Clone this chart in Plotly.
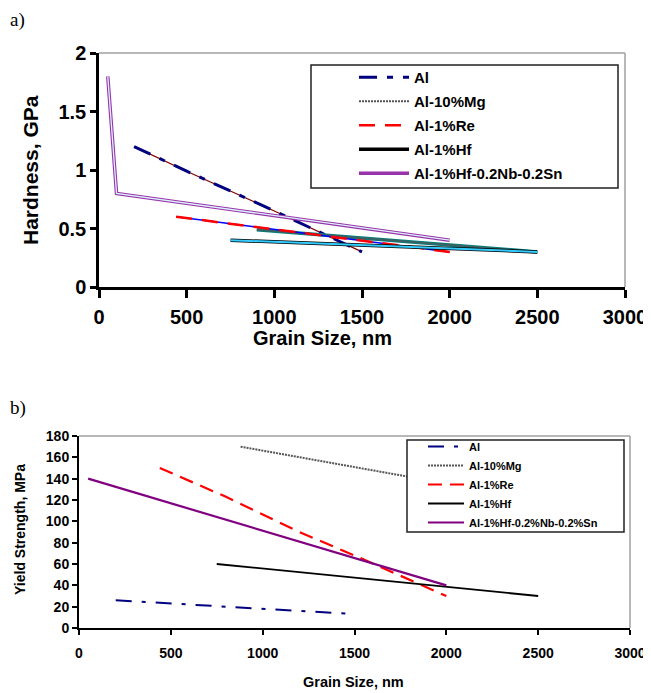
import plotly.graph_objects as go

# the page adds an 8px body margin, so the figure is drawn 8px in from the window edge
OFF = 8
W, H = 651 - OFF, 693 - OFF

# ---- panel a) hardness ----
al_x_a = [200, 500, 1000, 1500]
al_h = [1.2, 0.99, 0.65, 0.3]
mg_x_a = [900, 2500]
mg_h = [0.49, 0.3]
re_x_a = [440, 2000]
re_h = [0.6, 0.3]
hf_x_a = [750, 2500]
hf_h = [0.4, 0.3]
nbsn_x_a = [50, 100, 2000]
nbsn_h = [1.8, 0.8, 0.4]

# ---- panel b) yield strength ----
al_x_b = [200, 1500]
al_ys = [26, 13]
mg_x_b = [880, 2500]
mg_ys = [170, 120]
re_x_b = [440, 800, 1200, 1500, 2000]
re_ys = [150, 123, 90, 68, 30]
hf_x_b = [750, 2500]
hf_ys = [60, 30]
nbsn_x_b = [50, 2000]
nbsn_ys = [140, 40]

names = ["Al", "Al-10%Mg", "Al-1%Re", "Al-1%Hf", "Al-1%Hf-0.2Nb-0.2Sn"]
names_b = ["Al", "Al-10%Mg", "Al-1%Re", "Al-1%Hf", "Al-1%Hf-0.2%Nb-0.2%Sn"]
grain_ticks = [0, 500, 1000, 1500, 2000, 2500, 3000]
FONT = "Liberation Sans, Arial, sans-serif"


def px(x):
    return (x - OFF) / W


def py(y):
    return 1 - (y - OFF) / H


fig = go.Figure()


def add(x, y, color, width, dash="solid", name=None, axes="a", legend="legend", group=None):
    fig.add_trace(go.Scatter(
        x=x, y=y, mode="lines", name=name, showlegend=name is not None,
        line=dict(color=color, width=width, dash=dash),
        xaxis="x" if axes == "a" else "x2", yaxis="y" if axes == "a" else "y2",
        legend=legend, legendgroup=group, hoverinfo="skip"))


# panel a: excel-style doubled lines
add(al_x_a, al_h, "#800000", 1.2, group="g0")
add(al_x_a, al_h, "#000080", 3, "18px,10px,6px,10px", names[0], group="g0")
add(mg_x_a, mg_h, "#008080", 3.5, group="g1")
add(mg_x_a, mg_h, "#555555", 2, "2px,1px", names[1], group="g1")
add(re_x_a, re_h, "#0000FF", 1.5, group="g2")
add(re_x_a, re_h, "#FF0000", 2.5, "16px,10px", names[2], group="g2")
add(hf_x_a, hf_h, "#000000", 3.5, name=names[3], group="g3")
add(hf_x_a, hf_h, "#33CCFF", 2, group="g3")
add(nbsn_x_a, nbsn_h, "#9933AA", 3.5, name=names[4], group="g4")
add(nbsn_x_a, nbsn_h, "#DDF4FF", 1.3, group="g4")

# panel b
add(al_x_b, al_ys, "#000080", 2, "16px,10px,4px,10px", names_b[0], "b", "legend2", "h0")
add(mg_x_b, mg_ys, "#555555", 2, "2px,1px", names_b[1], "b", "legend2", "h1")
add(re_x_b, re_ys, "#FF0000", 2.2, "14px,8px", names_b[2], "b", "legend2", "h2")
add(hf_x_b, hf_ys, "#000000", 1.8, name=names_b[3], axes="b", legend="legend2", group="h3")
add(nbsn_x_b, nbsn_ys, "#800080", 2.2, name=names_b[4], axes="b", legend="legend2", group="h4")

axis_common = dict(showgrid=False, zeroline=False, showline=True, linecolor="black",
                   ticks="outside", tickcolor="black", fixedrange=True, automargin=False)

fig.update_layout(
    template="none",
    width=W, height=H, margin=dict(l=0, r=0, t=0, b=0, pad=0),
    paper_bgcolor="white", plot_bgcolor="white",
    font=dict(family=FONT, color="black"),
    xaxis=dict(axis_common, domain=[px(99), px(625)], range=[0, 3000], tickvals=grain_ticks,
               linewidth=2.5, tickwidth=2.5, ticklen=8, anchor="y",
               tickfont=dict(size=20, weight="bold"), ticklabelstandoff=2),
    yaxis=dict(axis_common, domain=[py(287), py(53)], range=[0, 2], tickvals=[0, 0.5, 1, 1.5, 2],
               ticktext=["0", "0.5", "1", "1.5", "2"], linewidth=2.5, tickwidth=2.5, ticklen=6,
               anchor="x", tickfont=dict(size=20, weight="bold")),
    xaxis2=dict(axis_common, domain=[px(79), px(630)], range=[0, 3000], tickvals=grain_ticks,
                linewidth=2, tickwidth=2, ticklen=5, anchor="y2",
                tickfont=dict(size=14, weight="bold"), ticklabelstandoff=6),
    yaxis2=dict(axis_common, domain=[py(628), py(436)], range=[0, 180], dtick=20,
                linewidth=2, tickwidth=2, ticklen=5, anchor="x2",
                tickfont=dict(size=14, weight="bold")),
    legend=dict(x=px(354), y=py(61), xanchor="left", yanchor="top", bgcolor="rgba(0,0,0,0)",
                font=dict(size=15, weight="bold"), itemwidth=50, tracegroupgap=1.5,
                traceorder="grouped"),
    legend2=dict(x=px(423), y=py(432), xanchor="left", yanchor="top", bgcolor="rgba(0,0,0,0)",
                 font=dict(size=11, weight="bold"), itemwidth=36, tracegroupgap=0,
                 traceorder="grouped"),
)

# excel-style grey frame (top and right) and legend boxes
for xr, yr in (("x domain", "y domain"), ("x2 domain", "y2 domain")):
    fig.add_shape(type="line", xref=xr, yref=yr, x0=0, x1=1, y0=1, y1=1,
                  line=dict(color="#A0A0A0", width=1.5), layer="below")
    fig.add_shape(type="line", xref=xr, yref=yr, x0=1, x1=1, y0=0, y1=1,
                  line=dict(color="#A0A0A0", width=1.5), layer="below")

fig.add_shape(type="rect", xref="paper", yref="paper", x0=px(311), x1=px(618), y0=py(188), y1=py(65),
              line=dict(color="#222222", width=1.5), fillcolor="white", layer="above")
fig.add_shape(type="rect", xref="paper", yref="paper", x0=px(407), x1=px(624), y0=py(532), y1=py(440),
              line=dict(color="#222222", width=1.5), fillcolor="white", layer="above")

ann = [
    ("a)", 8, 20, 19, 0, "Liberation Serif, Times New Roman, serif", "normal", "left"),
    ("b)", 8, 408, 19, 0, "Liberation Serif, Times New Roman, serif", "normal", "left"),
    ("Hardness, GPa", 30, 170, 21, -90, FONT, "bold", "center"),
    ("Grain Size, nm", 322, 338, 20, 0, FONT, "bold", "center"),
    ("Yield Strength, MPa", 20, 530, 14, -90, FONT, "bold", "center"),
    ("Grain Size, nm", 353, 682, 14.5, 0, FONT, "bold", "center"),
]
for text, x, y, size, angle, fam, weight, anchor in ann:
    fig.add_annotation(text=text, x=px(x), y=py(y), xref="paper", yref="paper", showarrow=False,
                       xanchor=anchor, yanchor="middle", textangle=angle,
                       font=dict(size=size, family=fam, weight=weight, color="black"))

fig.write_html("out.html")
